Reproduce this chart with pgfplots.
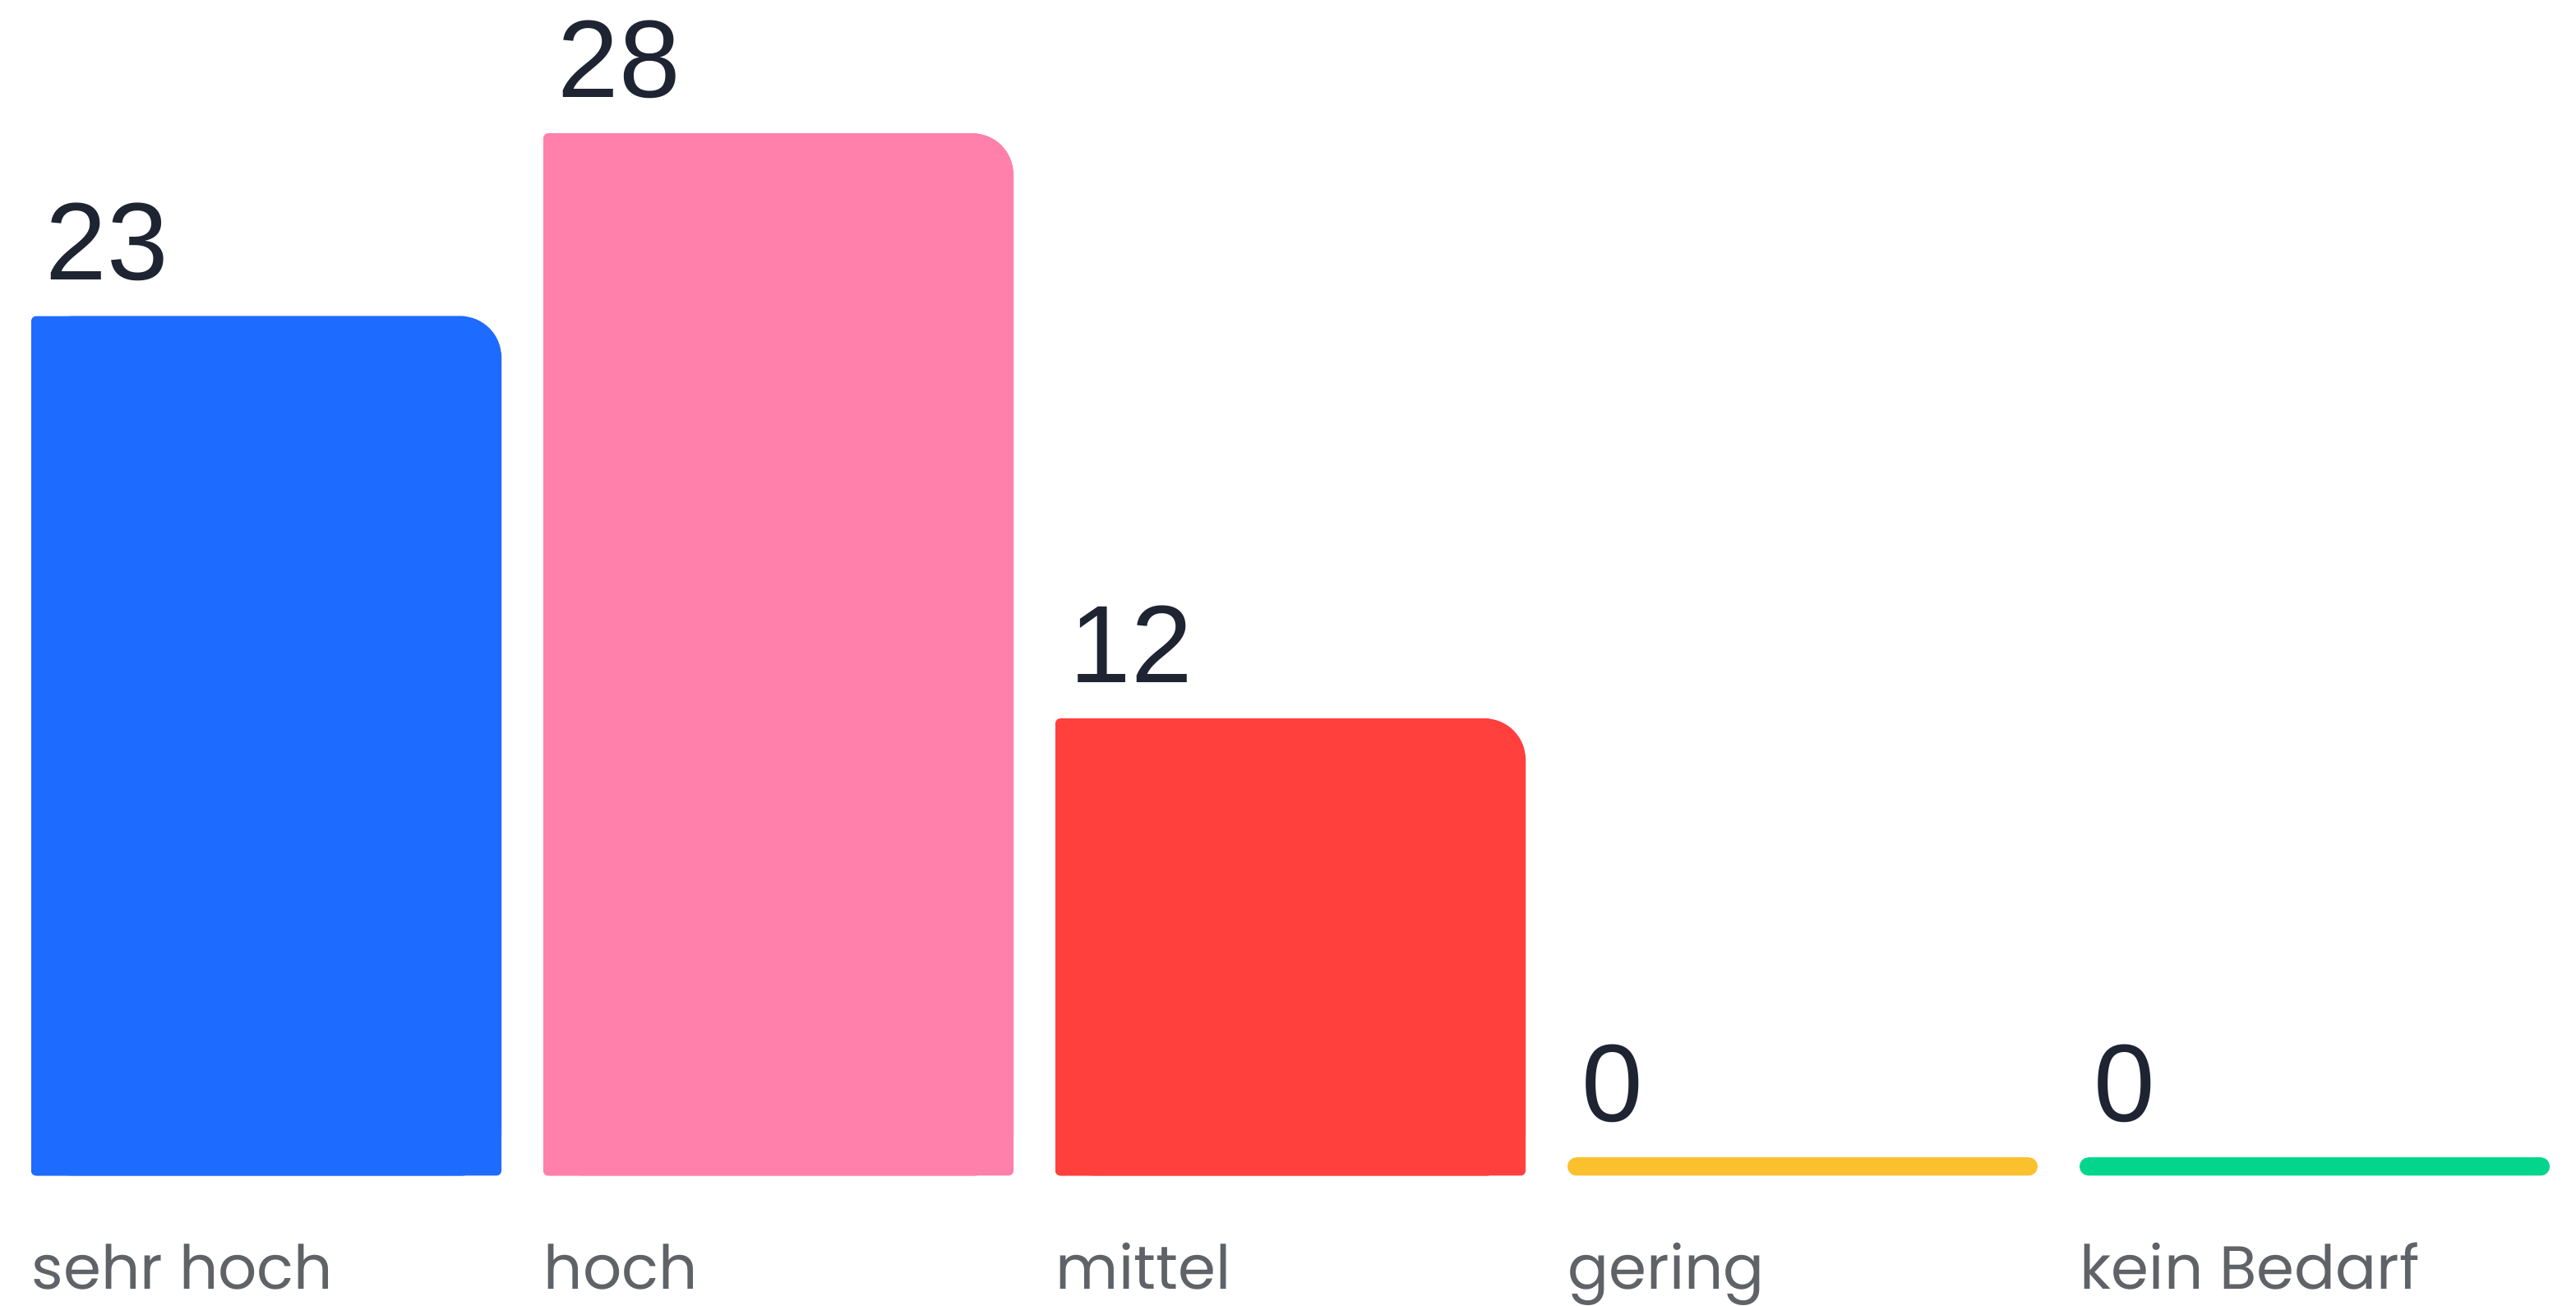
\documentclass[border=0pt]{standalone}
\usepackage{pgfplots}
\pgfplotsset{compat=1.18}
\usepackage{fontspec}
\setmainfont{Liberation Sans}
\newfontfamily\labelfont{Poppins}
\definecolor{cBlue}{HTML}{1E6BFF}
\definecolor{cPink}{HTML}{FF80AB}
\definecolor{cRed}{HTML}{FF403D}
\definecolor{cYellow}{HTML}{FBC02D}
\definecolor{cGreen}{HTML}{03D68C}
\definecolor{cNum}{HTML}{1F2433}
\definecolor{cLab}{HTML}{5F6368}
\pgfplotsset{
  mainbar/.style={ybar, bar width=143pt, bar shift=0pt, draw=none, rounded corners=12.5pt,
    y filter/.expression={y+0.5},
    point meta=rawy,
    nodes near coords={\pgfmathprintnumber[assume math mode=true]{\pgfplotspointmeta}},
    every node near coord/.append style={anchor=base west, inner sep=0pt,
      xshift=-67.25pt, yshift=11pt, text=cNum,
      font=\fontsize{33.5}{38}\selectfont, rounded corners=0pt}},
  zerobar/.style={mainbar, rounded corners=2.75pt},
  ovA/.style={ybar, bar width=133pt, bar shift=-5pt, draw=none, rounded corners=1.5pt,
    y filter/.expression={y+0.5}},
  ovB/.style={ybar, bar width=143pt, bar shift=0pt, draw=none, rounded corners=1.5pt,
    y filter/.expression={y-0.42}},
}
\begin{document}
\begin{tikzpicture}
\begin{axis}[
  scale only axis,
  width=783.5pt, height=396.5pt,
  xmin=-0.52006, xmax=4.5104,
  ymin=-3.5056, ymax=32.135,
  axis line style={draw=none},
  major tick length=0pt,
  ytick=\empty,
  xtick={0,1,2,3,4},
  xticklabels={sehr hoch, hoch, mittel, gering, kein Bedarf},
  xticklabel style={anchor=base west, inner sep=0pt, xshift=-71.5pt, yshift=4.5pt,
    text=cLab, font=\labelfont\fontsize{18.5}{22}\selectfont},
  clip=false,
]
% sehr hoch
\addplot[ovA, fill=cBlue] coordinates {(0,23)};
\addplot[ovB, fill=cBlue] coordinates {(0,23)};
\addplot[mainbar, fill=cBlue] coordinates {(0,23)};
% hoch
\addplot[ovA, fill=cPink] coordinates {(1,28)};
\addplot[ovB, fill=cPink] coordinates {(1,28)};
\addplot[mainbar, fill=cPink] coordinates {(1,28)};
% mittel
\addplot[ovA, fill=cRed] coordinates {(2,12)};
\addplot[ovB, fill=cRed] coordinates {(2,12)};
\addplot[mainbar, fill=cRed] coordinates {(2,12)};
% gering
\addplot[zerobar, fill=cYellow] coordinates {(3,0)};
% kein Bedarf
\addplot[zerobar, fill=cGreen] coordinates {(4,0)};
\end{axis}
\end{tikzpicture}
\end{document}
